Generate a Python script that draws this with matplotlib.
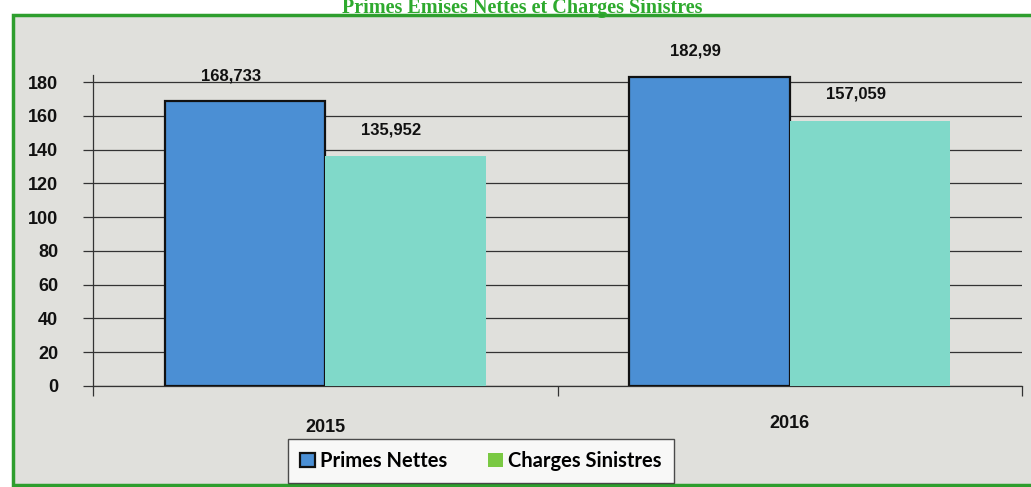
import matplotlib
matplotlib.use("Agg")
import matplotlib.pyplot as plt
from matplotlib.patches import Rectangle, Patch
import numpy as np

categories = ["2015", "2016"]
primes = [168.733, 182.99]
charges = [135.952, 157.059]
primes_labels = ["168,733", "182,99"]
charges_labels = ["135,952", "157,059"]
yticks = [0, 20, 40, 60, 80, 100, 120, 140, 160, 180]

W, H = 1031, 487
fig = plt.figure(figsize=(W / 100, H / 100), dpi=100)
fig.patch.set_facecolor("white")

# green frame with gray background
frame = Rectangle((13 / W, 1 - 485 / H), (1045 - 13) / W, (485 - 15) / H,
                  transform=fig.transFigure, facecolor="#e0e0dc",
                  edgecolor="#2e9e2e", linewidth=2.5, zorder=-10)
fig.patches.append(frame)

fig.text(522 / W, 1 - 13 / H, "Primes Emises Nettes et Charges Sinistres",
         ha="center", va="baseline", fontsize=14.5, fontweight="bold",
         family="Liberation Serif", color="#2eaa2e")

ax = fig.add_axes([93 / W, 1 - 386 / H, (1022 - 93) / W, (386 - 75) / H])
ax.set_facecolor("none")

x = np.arange(len(categories))
bw = 0.345
b1 = ax.bar(x - bw / 2, primes, bw, color="#4b8fd4", edgecolor="#111111",
            linewidth=1.6, zorder=3)
b2 = ax.bar(x + bw / 2, charges, bw, color="#80d9c9", edgecolor="none",
            zorder=3)

for i in range(len(categories)):
    ax.annotate(primes_labels[i], (x[i] - bw / 2, primes[i]), xytext=(-10, 13),
                textcoords="offset points", ha="center", va="bottom",
                fontsize=12, fontweight="bold", family="Liberation Sans",
                color="#111111")
    ax.annotate(charges_labels[i], (x[i] + bw / 2, charges[i]), xytext=(-10, 14),
                textcoords="offset points", ha="center", va="bottom",
                fontsize=12, fontweight="bold", family="Liberation Sans",
                color="#111111")

ax.set_ylim(0, 184.2)
ax.set_xlim(-0.5, 1.5)
ax.set_yticks(yticks)
ax.set_yticklabels([str(v) for v in yticks], fontsize=13, fontweight="bold",
                   family="Liberation Sans", color="#111111")
ax.yaxis.grid(True, color="#333333", linewidth=0.9, zorder=1)
ax.set_axisbelow(True)
ax.tick_params(axis="y", direction="out", length=7, width=0.9, color="#333333", pad=18)

ax.set_xticks([-0.5, 0.5, 1.5])
ax.set_xticklabels(["", "", ""])
ax.tick_params(axis="x", direction="out", length=7, width=0.9, color="#333333")

for s in ["top", "right"]:
    ax.spines[s].set_visible(False)
for s in ["left", "bottom"]:
    ax.spines[s].set_color("#333333")
    ax.spines[s].set_linewidth(0.9)

cat_y = [428, 424]
for i, c in enumerate(categories):
    fig.text((93 + (i + 0.5) * (1022 - 93) / 2) / W, 1 - cat_y[i] / H, c,
             ha="center", va="center", fontsize=13, fontweight="bold",
             family="Liberation Sans", color="#111111")

handles = [Patch(facecolor="#4b8fd4", edgecolor="#111111", linewidth=1.6),
           Patch(facecolor="#7ac943", edgecolor="none")]
leg = fig.legend(handles, ["Primes Nettes", "Charges Sinistres"], ncol=2,
                 loc="center", bbox_to_anchor=(481 / W, 1 - 461 / H),
                 frameon=True, fancybox=False, handlelength=0.75,
                 handleheight=0.75, handletextpad=0.25, columnspacing=2.0,
                 borderpad=0.6, borderaxespad=0,
                 prop={"family": "Lato", "weight": "bold", "size": 14.5})
leg.get_frame().set_edgecolor("#222222")
leg.get_frame().set_facecolor("white")
leg.get_frame().set_linewidth(1.0)
leg.set_zorder(5)

fig.savefig("out.png", dpi=100, facecolor=fig.get_facecolor())
